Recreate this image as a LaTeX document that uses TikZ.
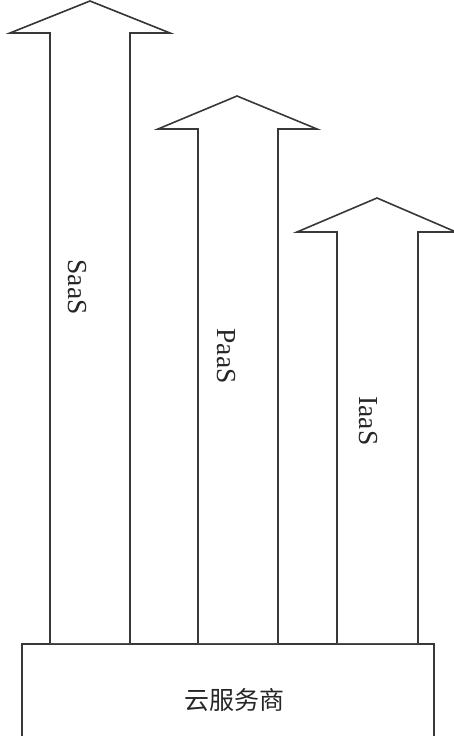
\documentclass[tikz,border=0pt]{standalone}
\usepackage{fontspec}
\setmainfont{Liberation Serif}
\newfontfamily\cjk{Noto Sans CJK SC}
\begin{document}
\begin{tikzpicture}[x=1pt,y=-1pt,
  edge/.style={draw=black!78,line width=1.6pt,line join=miter},
  lbl/.style={font=\fontsize{27.5}{27.5}\selectfont,rotate=-90,inner sep=0pt,text=black!85}]
\useasboundingbox (0,0) rectangle (454,736);
\clip (0,0) rectangle (454,736);
% base box
\node[edge,rectangle,minimum width=412pt,minimum height=110pt,anchor=north west,inner sep=0pt] (base) at (21,643) {};
\node[font=\cjk\fontsize{25}{25}\selectfont,text=black!85] (basetext) at (234,700) {云服务商};
% SaaS arrow
\draw[edge,fill=white] (50,643) -- (50,33) -- (10,33) -- (90,1) -- (170,33) -- (130,33) -- (130,643);
\node[lbl] (saas) at (77,287) {SaaS};
% PaaS arrow
\draw[edge,fill=white] (198,643) -- (198,129) -- (158,129) -- (237,96) -- (317,129) -- (278,129) -- (278,643);
\node[lbl] (paas) at (226,356) {PaaS};
% IaaS arrow
\draw[edge,fill=white] (337,643) -- (337,232) -- (297,232) -- (377,198) -- (456,232) -- (418,232) -- (418,643);
\node[lbl] (iaas) at (368,421) {IaaS};
\end{tikzpicture}
\end{document}
